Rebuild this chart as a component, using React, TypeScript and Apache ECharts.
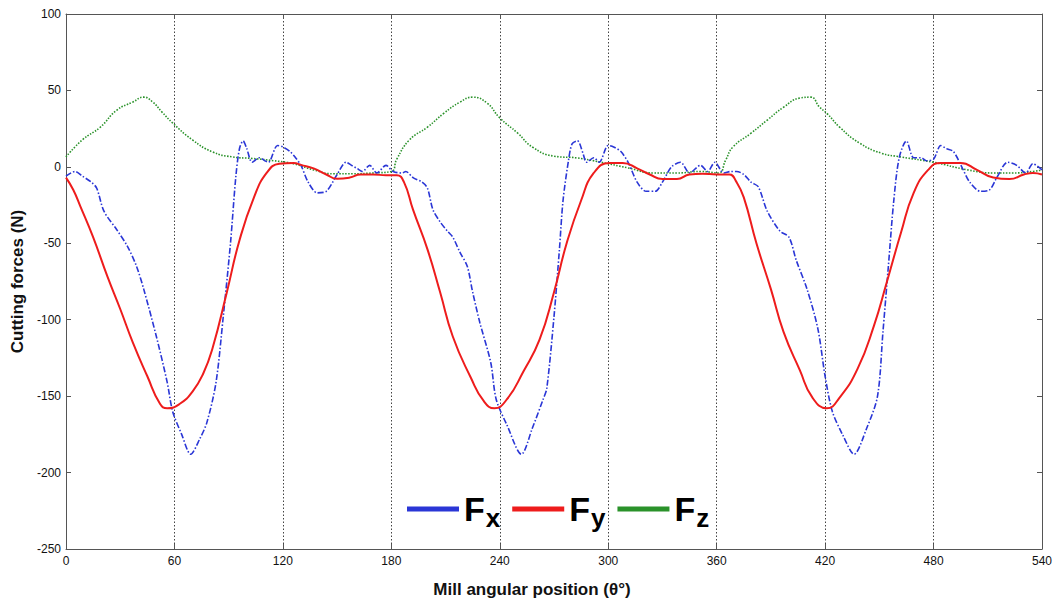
import React, { useEffect, useRef } from "react";
import * as echarts from "echarts";

const xTicks = [0, 60, 120, 180, 240, 300, 360, 420, 480, 540];

const fxData: [number, number][] = [
  [0, -6], [5, -3], [9, -6], [14, -10], [17, -14], [21, -29], [28, -41], [34, -52], [39, -65], [43, -80],
  [50, -111], [56, -141], [59, -160], [64, -175], [69, -188], [74, -178], [78, -167], [83, -141], [87, -98],
  [91, -50], [94, -6], [96, 12], [98, 17], [100, 12], [103, 3], [107, 6], [110, 4], [112, 3], [117, 14],
  [120, 13], [124, 10], [127, 6], [130, 1], [134, -10], [139, -17], [144, -16], [150, -5], [155, 3],
  [158, 1], [161, -1], [164, -3], [168, 1], [172, -4], [177, 1], [181, -3],
  [186, -4], [188, -3], [192, -7], [197, -10], [200, -14], [203, -28], [207, -36], [211, -42], [214, -46],
  [218, -56], [222, -65], [225, -82], [229, -102], [235, -128], [238, -152], [244, -169], [252, -188],
  [258, -171], [264, -152], [266, -145], [270, -98], [273, -54], [275, -22], [278, 4], [280, 15], [283, 17],
  [286, 9], [288, 3], [292, 6], [295, 3], [300, 14], [303, 13], [307, 10], [311, 3], [316, -10], [321, -16],
  [326, -16], [330, -10], [335, 0], [340, 3], [345, -4], [351, 1], [355, -3], [359, 3], [364, -4],
  [368, -3], [371, -3], [375, -5], [379, -10], [383, -13], [388, -29], [395, -42], [400, -46], [404, -61],
  [410, -80], [416, -106], [420, -137], [424, -160], [430, -176], [436, -188], [443, -171], [449, -150],
  [452, -108], [455, -65], [458, -22], [461, 6], [465, 17], [469, 6], [473, 6], [476, 4], [480, 5],
  [484, 14], [487, 12], [491, 10], [496, -1], [500, -10], [506, -16], [511, -15], [515, -7], [521, 3],
  [526, 1], [531, -4], [535, 2], [540, -2],
];

const fyData: [number, number][] = [
  [0, -7], [4, -15], [8, -26], [15, -46], [23, -72], [30, -93], [37, -115], [45, -137], [52, -155],
  [56, -158], [63, -155], [70, -147], [76, -135], [81, -119], [89, -82], [96, -48], [104, -20], [111, -4],
  [118, 2], [126, 2.6], [130, 1.3], [137, -1], [144, -5], [150, -7.8], [157, -7], [163, -5], [170, -5],
  [177, -5.5], [183, -5.5], [187, -10], [192, -28], [200, -54], [207, -82], [214, -111], [224, -138],
  [231, -153], [237, -158], [244, -152], [253, -134], [262, -113], [270, -82], [277, -50], [285, -22],
  [292, -4], [301, 2.6], [308, 2.6], [316, -1], [323, -5], [330, -8], [338, -8], [345, -5], [352, -4.5],
  [360, -5], [367, -5], [371, -10], [375, -20], [382, -50], [390, -80], [397, -108], [406, -133],
  [413, -151], [421, -158], [428, -151], [438, -132], [447, -104], [454, -76], [462, -43], [469, -17],
  [477, -2], [484, 2.6], [495, 2.6], [504, -2], [513, -7], [522, -8], [530, -5], [535, -4], [540, -5],
];

const fzData: [number, number][] = [
  [0, 6.5], [9, 17.6], [19, 26], [28, 37], [37, 42.4], [43, 45.6], [48, 42.4], [53, 36], [59, 28.7],
  [70, 17.6], [81, 9.8], [92, 6.5], [103, 5.5], [115, 4], [126, 2], [137, -2], [148, -4.5], [159, -4.5],
  [170, -4], [180, -3], [183, 5], [190, 17.6], [200, 26], [209, 35], [218, 42.4], [225, 45.6], [233, 41.7],
  [240, 32], [250, 22], [258, 13], [270, 7], [283, 5.8], [296, 3], [311, -0.7], [325, -4], [338, -4],
  [351, -3], [361, -4], [365, 4.5], [369, 13], [379, 22], [388, 30.6], [397, 39], [406, 45], [412, 45.6],
  [417, 39], [421, 35], [428, 26], [439, 15.6], [451, 9], [462, 6.5], [480, 3], [499, -2], [513, -4],
  [524, -4], [535, -3], [540, -2],
];

const seriesNames = ["Fx", "Fy", "Fz"];
const FONT = "'Liberation Sans', Arial, Helvetica, sans-serif";

export default function App() {
  const ref = useRef<HTMLDivElement>(null);
  useEffect(() => {
    const chart = echarts.init(ref.current!, undefined, { renderer: "svg" });
    const axisLine = { show: true, onZero: false, lineStyle: { color: "#555", width: 1 } };
    const tickIn = { show: true, inside: true, length: 5, lineStyle: { color: "#555" } };
    chart.setOption({
      animation: false,
      backgroundColor: "#fff",
      textStyle: { fontFamily: FONT },
      grid: { left: 66, right: 15, top: 14, bottom: 52 },
      legend: {
        left: 402,
        top: 482,
        icon: "rect",
        itemWidth: 52,
        itemHeight: 5,
        itemGap: 12,
        data: seriesNames,
        formatter: (name: string) => `{F|F}{s|${name.slice(1)}}`,
        textStyle: {
          rich: {
            F: { fontSize: 34, fontWeight: "bold", color: "#000", fontFamily: FONT, lineHeight: 42 },
            s: { fontSize: 26, fontWeight: "bold", color: "#000", fontFamily: FONT, lineHeight: 42, padding: [18, 0, 0, 1] },
          },
        },
      },
      xAxis: [
        {
          type: "value",
          min: 0,
          max: 540,
          interval: 60,
          position: "bottom",
          axisLine,
          axisTick: tickIn,
          axisLabel: { color: "#111", fontSize: 12, margin: 6, fontFamily: FONT, formatter: (v: number) => (xTicks.includes(v) ? String(v) : "") },
          splitLine: { show: true, lineStyle: { color: "#444", width: 1, type: [1.5, 2] } },
          name: "Mill angular position (θ°)",
          nameLocation: "middle",
          nameGap: 32,
          nameTextStyle: { fontSize: 17, fontWeight: "bold", color: "#111", fontFamily: FONT, padding: [0, 44, 0, 0] },
        },
        {
          type: "value",
          min: 0,
          max: 540,
          interval: 60,
          position: "top",
          axisLine,
          axisTick: tickIn,
          axisLabel: { show: false },
          splitLine: { show: false },
        },
      ],
      yAxis: [
        {
          type: "value",
          min: -250,
          max: 100,
          interval: 50,
          position: "left",
          axisLine,
          axisTick: tickIn,
          axisLabel: { color: "#111", fontSize: 12, margin: 5, fontFamily: FONT },
          splitLine: { show: false },
          name: "Cutting forces (N)",
          nameLocation: "middle",
          nameGap: 38,
          nameTextStyle: { fontSize: 17, fontWeight: "bold", color: "#111", fontFamily: FONT },
        },
        {
          type: "value",
          min: -250,
          max: 100,
          interval: 50,
          position: "right",
          axisLine,
          axisTick: tickIn,
          axisLabel: { show: false },
          splitLine: { show: false },
        },
      ],
      series: [
        {
          name: "Fx",
          type: "line",
          data: fxData,
          smooth: 0.3,
          showSymbol: false,
          color: "#2a36d6",
          lineStyle: { color: "#2a36d6", width: 1.6, type: [6, 2, 1.5, 2] },
          z: 3,
        },
        {
          name: "Fy",
          type: "line",
          data: fyData,
          smooth: 0.5,
          showSymbol: false,
          color: "#ee1c1c",
          lineStyle: { color: "#ee1c1c", width: 2 },
          z: 4,
        },
        {
          name: "Fz",
          type: "line",
          data: fzData,
          smooth: 0.5,
          showSymbol: false,
          color: "#2a922a",
          lineStyle: { color: "#2a922a", width: 1.6, type: [1.5, 1.5] },
          z: 2,
        },
      ],
    });
    return () => chart.dispose();
  }, []);
  return <div ref={ref} style={{ width: 1057, height: 603, position: "absolute", left: 0, top: 0 }} />;
}
